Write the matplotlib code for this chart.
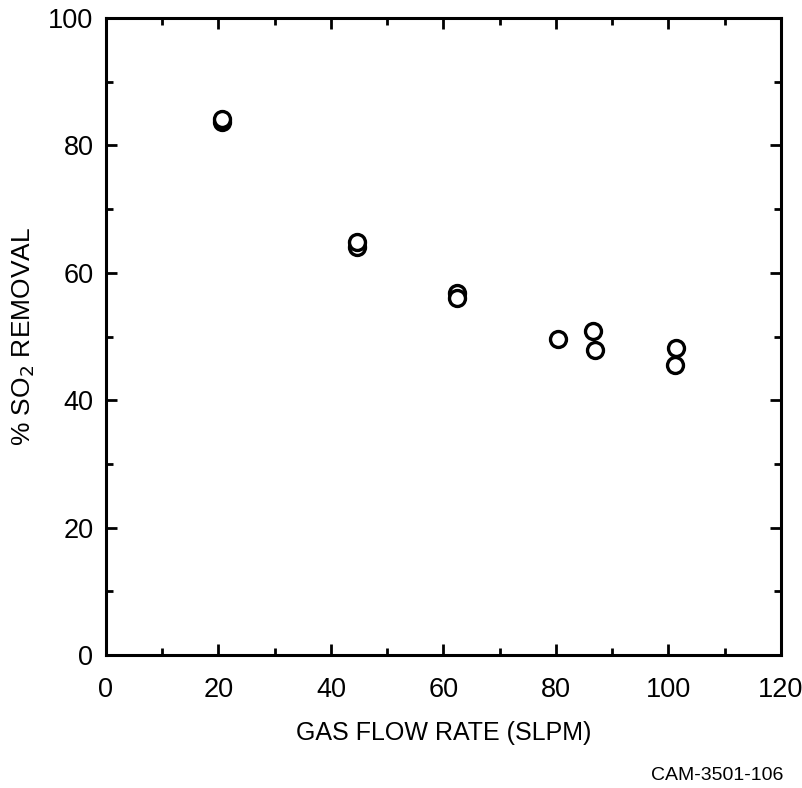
import matplotlib
matplotlib.use("Agg")
import matplotlib.pyplot as plt
from matplotlib.ticker import MultipleLocator

# gas flow rate (SLPM) vs % SO2 removal
flow = [20.6, 20.7, 44.6, 44.7, 62.4, 62.4, 80.3, 86.5, 86.9, 101.3, 101.2]
removal = [83.6, 84.2, 64.1, 64.8, 56.9, 56.0, 49.6, 50.9, 47.9, 48.2, 45.5]

plt.rcParams['font.family'] = ['Liberation Sans', 'DejaVu Sans']

fig = plt.figure(figsize=(8.03, 7.88), dpi=100)
ax = fig.add_axes([106/803, 1-655/788, 675/803, 637/788])

ax.plot(flow, removal, 'o', mfc='white', mec='black', ms=11.5, mew=2.4)

ax.set_xlim(0, 120)
ax.set_ylim(0, 100)
ax.xaxis.set_major_locator(MultipleLocator(20))
ax.xaxis.set_minor_locator(MultipleLocator(10))
ax.yaxis.set_major_locator(MultipleLocator(20))
ax.yaxis.set_minor_locator(MultipleLocator(10))
ax.tick_params(which='both', direction='in', top=True, right=True, width=2)
ax.tick_params(which='major', length=8, labelsize=19.5)
ax.tick_params(which='minor', length=5)
ax.tick_params(axis='x', which='major', pad=16)
ax.tick_params(axis='y', which='major', pad=9)
for s in ax.spines.values():
    s.set_linewidth(2.2)

ax.set_xlabel('GAS FLOW RATE (SLPM)', fontsize=18, labelpad=13)
ax.set_ylabel('% SO$_2$ REMOVAL', fontsize=19, labelpad=8)

fig.text(783/803, 1-775/788, 'CAM-3501-106', ha='right', va='center', fontsize=14)

fig.savefig('out.png', dpi=100)
